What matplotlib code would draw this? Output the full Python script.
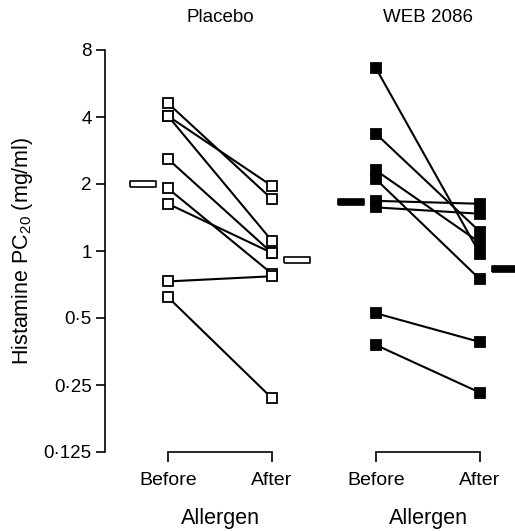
import matplotlib

matplotlib.use("Agg")
import matplotlib.pyplot as plt
import matplotlib.transforms as mtransforms
from matplotlib.ticker import FixedLocator, FixedFormatter, NullLocator

# Histamine PC20 (mg/ml)
placebo_before = [4.61, 4.04, 4.04, 2.59, 1.91, 1.63, 0.73, 0.62]
placebo_after = [1.71, 1.96, 1.11, 0.98, 0.79, 0.98, 0.77, 0.218]
placebo_mean = [2.0, 0.91]

web_before = [6.62, 3.36, 2.30, 2.10, 1.68, 1.57, 0.525, 0.378]
web_after = [0.97, 1.22, 1.09, 0.746, 1.63, 1.47, 0.39, 0.231]
web_mean = [1.66, 0.83]

groups = ["Placebo", "WEB 2086"]
phase_labels = ["Before", "After", "Before", "After"]
ytick_values = [0.125, 0.25, 0.5, 1, 2, 4, 8]
ytick_labels = ["0·125", "0·25", "0·5", "1", "2", "4", "8"]

plt.rcParams["font.family"] = ["Liberation Sans", "DejaVu Sans"]
plt.rcParams["mathtext.fontset"] = "custom"
plt.rcParams["mathtext.rm"] = "Liberation Sans"
plt.rcParams["mathtext.it"] = "Liberation Sans"

fig = plt.figure(figsize=(5.15, 5.31), dpi=100)
ax = fig.add_axes([105 / 515, 79 / 531, 410 / 515, 402 / 531])

LW = 1.5
bar_marker = [(-1, -0.27), (1, -0.27), (1, 0.27), (-1, 0.27), (-1, -0.27)]
series = [
    (1, placebo_before, placebo_after, placebo_mean, "white"),
    (3, web_before, web_after, web_mean, "black"),
]
for x0, before, after, mean, face in series:
    for b, a in zip(before, after):
        ax.plot([x0, x0 + 1], [b, a], color="black", lw=LW, zorder=2, clip_on=False)
    ax.plot([x0] * len(before), before, ls="none", marker="s", ms=7.8,
            mfc=face, mec="black", mew=1.3, zorder=3, clip_on=False)
    ax.plot([x0 + 1] * len(after), after, ls="none", marker="s", ms=7.8,
            mfc=face, mec="black", mew=1.3, zorder=3, clip_on=False)
    ax.plot([x0 - 0.24, x0 + 1.24], mean, ls="none", marker=bar_marker, ms=18.5,
            mfc=face, mec="black", mew=1.2, zorder=3, clip_on=False)

ax.set_yscale("log", base=2)
ax.set_ylim(0.125, 8)
ax.set_xlim(1 - 63 / 104, 1 + 347 / 104)
ax.yaxis.set_major_locator(FixedLocator(ytick_values))
ax.yaxis.set_major_formatter(FixedFormatter(ytick_labels))
ax.yaxis.set_minor_locator(NullLocator())
ax.tick_params(axis="y", direction="out", length=6.5, width=1.2, pad=3, labelsize=13.5)

ax.set_xticks([1, 2, 3, 4])
ax.set_xticklabels(phase_labels)
ax.tick_params(axis="x", direction="out", length=7.2, width=1.2, pad=7, labelsize=14)

for side in ["top", "right", "bottom"]:
    ax.spines[side].set_visible(False)
ax.spines["left"].set_linewidth(1.2)

trans = mtransforms.blended_transform_factory(ax.transData, ax.transAxes)
for x0, label in zip([1, 3], groups):
    ax.plot([x0, x0 + 1], [0, 0], color="black", lw=1.2, transform=trans, clip_on=False)
    ax.text(x0 + 0.5, 1.08, label, transform=trans, ha="center", va="center", fontsize=13.5)
    ax.text(x0 + 0.5, -0.166, "Allergen", transform=trans, ha="center", va="center",
            fontsize=15.5)

ax.set_ylabel("Histamine PC$_{20}$ (mg/ml)", fontsize=15.5, labelpad=6)

fig.savefig("out.png", dpi=100)
